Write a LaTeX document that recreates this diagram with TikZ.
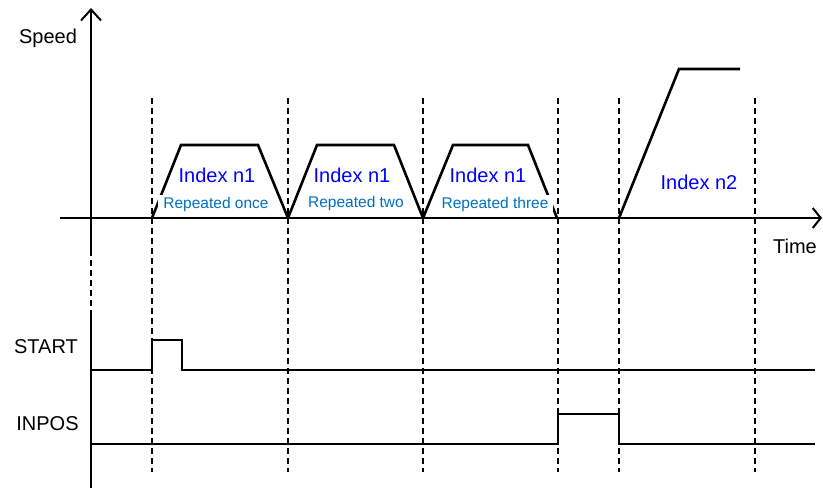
\documentclass[tikz,border=0pt]{standalone}
\usepackage{fontspec}
\setmainfont{Liberation Sans}
\usetikzlibrary{arrows.meta}
\definecolor{idxblue}{RGB}{0,0,255}
\definecolor{repblue}{RGB}{0,112,192}
\begin{document}
\begin{tikzpicture}[x=1pt,y=-1pt,
  trace/.style={line width=2.6pt, line join=miter},
  axisline/.style={line width=2pt},
  guide/.style={line width=1.3pt, dash pattern=on 6pt off 4pt},
  idx/.style={text=idxblue, font=\fontsize{20}{24}\selectfont, inner sep=0pt, anchor=base},
  rep/.style={text=repblue, fill=white, font=\fontsize{15.5}{18}\selectfont, inner xsep=5pt, inner ysep=2pt, anchor=base},
  lbl/.style={font=\fontsize{20}{24}\selectfont, inner sep=0pt, anchor=base}]
\useasboundingbox (0,0) rectangle (823,488);

% guide lines
\foreach \gx in {152,288,423,558,619,755}
  \draw[guide] (\gx,98) -- (\gx,472);

% axes
\coordinate (ytop) at (91,8);
\coordinate (ymid1) at (91,250);
\coordinate (ymid2) at (91,310);
\coordinate (ybot) at (91,488);
\draw[axisline,-{Straight Barb[length=11pt,width=20pt,line width=2pt]}] (ymid1) -- (ytop);
\draw[guide] (ymid1) -- (ymid2);
\draw[axisline] (ymid2) -- (ybot);
\coordinate (xl) at (60,218);
\coordinate (xr) at (822,218);
\draw[axisline,-{Straight Barb[length=8pt,width=20pt,line width=2pt]}] (xl) -- (xr);
\draw[trace] (60,218) -- (740,218);

% speed profile
\draw[trace] (152,218) -- (181,145) -- (258,145) -- (288,218);
\draw[trace] (288,218) -- (317,145) -- (394,145) -- (423,218);
\draw[trace] (423,218) -- (453,145) -- (528,145) -- (557,218);
\draw[trace] (619,218) -- (679,69) -- (740,69);

% labels
\node[idx] (i1) at (217,182.5) {Index n1};
\node[idx] (i2) at (352,182.5) {Index n1};
\node[idx] (i3) at (488,182.5) {Index n1};
\node[idx] (i4) at (699,189) {Index n2};
\node[rep] (r1) at (216,208) {Repeated once};
\node[rep] (r2) at (356,207.5) {Repeated two};
\node[rep] (r3) at (495,208) {Repeated three};

\node[lbl] (speed) at (48,43.5) {Speed};
\node[lbl] (time) at (795,253) {Time};
\node[lbl] (start) at (46,353) {START};
\node[lbl] (inpos) at (47.5,430) {INPOS};

% signals
\draw[trace] (91,370) -- (152,370) -- (152,340) -- (182,340) -- (182,370) -- (815,370);
\draw[trace] (91,444) -- (558,444) -- (558,414) -- (619,414) -- (619,444) -- (815,444);
\end{tikzpicture}
\end{document}
